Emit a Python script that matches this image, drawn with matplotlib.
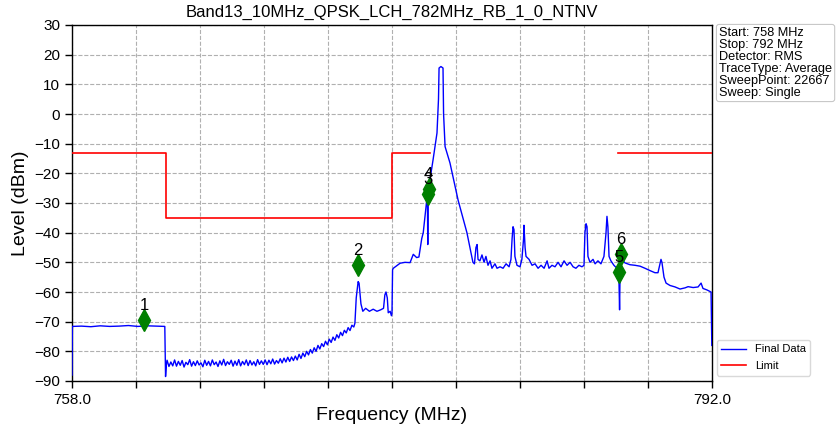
import numpy as np
import matplotlib
matplotlib.use("Agg")
import matplotlib.pyplot as plt

plt.rcParams['font.family'] = ['Liberation Sans', 'DejaVu Sans']

title = "Band13_10MHz_QPSK_LCH_782MHz_RB_1_0_NTNV"
info_lines = ["Start: 758 MHz", "Stop: 792 MHz", "Detector: RMS",
              "TraceType: Average", "SweepPoint: 22667", "Sweep: Single"]

# ---- trace: low out-of-band segment (758-763 MHz)
seg1_freq = [758.0, 758.02, 758.5, 759.0, 759.5, 760.0, 760.5, 761.0, 761.5,
             762.0, 762.5, 762.93, 762.97, 763.02]
seg1_level = [-88.0, -71.6, -71.5, -71.7, -71.4, -71.6, -71.5, -71.3, -71.6,
              -71.4, -71.5, -71.6, -88.5, -84.0]

# ---- trace: noise floor segment (763-773 MHz) sampled on the sweep grid
noise_start, noise_stop = 763.05, 772.97
noise_level = [
    -83.0, -85.1, -83.6, -84.9, -82.9, -85.0, -83.4, -84.7, -83.1, -85.3,
    -83.7, -84.5, -82.8, -85.0, -83.5, -84.8, -83.2, -84.6, -83.9, -85.2,
    -83.0, -84.7, -83.4, -84.9, -82.9, -84.5, -83.6, -85.1, -83.2, -84.6,
    -82.7, -84.8, -83.5, -84.4, -83.0, -85.0, -83.3, -84.7, -82.8, -84.9,
    -83.4, -84.5, -82.9, -84.8, -83.1, -84.6, -83.5, -84.9, -82.8, -84.4,
    -83.2, -84.4, -82.9, -84.5, -83.0, -84.2, -82.6, -84.3, -83.1, -84.0,
    -82.5, -83.9, -82.3, -83.6, -82.0, -83.4, -81.9, -83.1, -81.6, -82.9,
    -81.0, -82.4, -80.6, -81.8, -80.0, -81.2, -79.4, -80.6, -78.8, -80.0,
    -78.0, -79.2, -77.4, -78.4, -76.6, -77.8, -75.9, -77.0, -75.2, -76.3,
    -74.4, -75.5, -73.6, -74.7, -72.9, -73.8, -72.0, -73.0, -71.2, -71.8]

# ---- trace: carrier and upper segment (773-792 MHz)
seg3_freq = [773.03, 773.1, 773.2, 773.25, 773.35, 773.45, 773.6, 773.8, 774.0,
             774.2, 774.4, 774.55, 774.62, 774.68, 774.75, 774.8, 774.9, 774.97,
             775.0, 775.03, 775.07, 775.43, 775.69, 775.96, 776.13, 776.31,
             776.43, 776.58, 776.66, 776.81, 776.88, 776.9, 776.92, 777.02,
             777.18, 777.39, 777.47, 777.5, 777.6, 777.71, 777.74, 777.82,
             778.08, 778.51, 778.98, 779.3, 779.38, 779.46, 779.52, 779.57,
             779.67, 779.78, 779.89, 779.99, 780.1, 780.21, 780.31, 780.47,
             780.58, 780.74, 780.9, 781.06, 781.22, 781.32, 781.38, 781.43,
             781.48, 781.53, 781.64, 781.8, 781.9, 781.99, 782.01, 782.07,
             782.12, 782.28, 782.44, 782.6, 782.76, 782.92, 783.08, 783.24,
             783.34, 783.5, 783.66, 783.82, 783.98, 784.14, 784.3, 784.46,
             784.62, 784.77, 784.93, 785.09, 785.2, 785.25, 785.31, 785.36,
             785.41, 785.52, 785.68, 785.79, 785.94, 786.1, 786.26, 786.37,
             786.42, 786.47, 786.53, 786.63, 786.79, 786.95, 787.05, 787.09,
             787.12, 787.22, 787.38, 787.64, 787.91, 788.18, 788.44, 788.71,
             788.97, 789.13, 789.24, 789.29, 789.34, 789.45, 789.56, 789.77,
             790.04, 790.3, 790.57, 790.73, 791.0, 791.26, 791.42, 791.52,
             791.73, 791.95, 791.99]
seg3_level = [-70.5, -62.0, -56.5, -57.0, -64.0, -66.5, -65.5, -66.5, -65.8,
              -66.5, -66.0, -65.5, -61.0, -60.0, -62.0, -67.0, -66.5, -68.0,
              -67.0, -52.5, -52.0, -50.3, -50.0, -50.1, -47.3, -48.4,
              -48.2, -42.0, -40.0, -31.0, -27.0, -44.0, -27.0, -22.0,
              -15.5, -6.4, 5.0, 15.5, 16.0, 15.5, 0.0, -11.0,
              -16.5, -29.0, -40.0, -50.0, -50.5, -45.0, -44.0, -49.0,
              -49.5, -47.5, -50.0, -48.0, -51.0, -49.5, -52.0, -50.5,
              -52.0, -51.5, -52.0, -50.5, -51.5, -49.0, -42.0, -38.0,
              -39.0, -48.0, -51.0, -51.5, -49.0, -42.0, -37.5, -45.0,
              -48.0, -49.0, -51.0, -50.5, -52.0, -51.0, -52.0, -49.5,
              -52.0, -51.0, -51.5, -50.0, -51.5, -49.5, -51.0, -50.0,
              -51.5, -52.0, -51.0, -51.5, -51.0, -40.0, -37.0, -38.0,
              -48.0, -50.0, -49.0, -50.5, -49.5, -50.5, -48.0, -40.0,
              -34.5, -38.0, -48.0, -49.5, -51.0, -52.0, -54.0, -66.0,
              -52.0, -49.0, -50.2, -50.8, -51.0, -51.3, -52.0, -52.8,
              -53.5, -53.5, -50.5, -49.0, -50.0, -55.0, -57.0, -57.8,
              -58.3, -59.0, -58.6, -58.2, -58.5, -58.3, -57.0, -58.8,
              -59.3, -60.0, -78.0]

# ---- limit line
limit_freq = [758, 763, 763, 775, 775, 777, np.nan, 787, 792]
limit_level = [-13, -13, -35, -35, -13, -13, np.nan, -13, -13]

# ---- markers
marker_ids = ["1", "2", "3", "4", "5", "6"]
marker_freq = [761.83, 773.2, 776.89, 776.95, 787.06, 787.14]
marker_level = [-69.4, -51.0, -26.8, -25.3, -53.3, -47.3]

noise_freq = np.linspace(noise_start, noise_stop, len(noise_level))
trace_freq = np.concatenate([seg1_freq, noise_freq, seg3_freq])
trace_level = np.concatenate([seg1_level, noise_level, seg3_level])

fig = plt.figure(figsize=(8.38, 4.28), dpi=100)
ax = fig.add_axes([72 / 838, 47 / 428, 640 / 838, 356 / 428])

ax.plot(trace_freq, trace_level, color='#0000ff', lw=1.0, label='Final Data', zorder=3)
ax.plot(limit_freq, limit_level, color='#ff0000', lw=1.2, label='Limit', zorder=3)

ax.plot(marker_freq, marker_level, linestyle='none', marker='d', markersize=11,
        color='green', zorder=5)
for mid, mf, ml in zip(marker_ids, marker_freq, marker_level):
    ax.annotate(mid, (mf, ml), xytext=(0, 5), textcoords='offset points',
                ha='center', va='bottom', fontsize=12, color='black', zorder=6)

ax.set_xlim(758, 792)
ax.set_ylim(-90, 30)
xt = np.linspace(758, 792, 11)
ax.set_xticks(xt)
ax.set_xticklabels(["758.0"] + [""] * 9 + ["792.0"])
ax.set_yticks(np.arange(-90, 31, 10))
ax.tick_params(labelsize=11, length=5, width=1)
ax.grid(True, linestyle='--', color='#b0b0b0', lw=0.8)
ax.set_axisbelow(True)
for s in ax.spines.values():
    s.set_color('black')
    s.set_linewidth(1.0)

ax.set_title(title, fontsize=12, pad=6)
ax.set_xlabel("Frequency (MHz)", fontsize=14, labelpad=0)
ax.set_ylabel("Level (dBm)", fontsize=14)

fig.text(719 / 838, 1 - 27 / 428, "\n".join(info_lines), fontsize=9.2,
         va='top', ha='left', linespacing=1.0,
         bbox=dict(boxstyle='round,pad=0.2', fc='white', ec='#c8c8c8', lw=0.8))

ax.legend(loc='upper left', bbox_to_anchor=(717 / 838, 1 - 340 / 428),
          bbox_transform=fig.transFigure, fontsize=8, frameon=True,
          edgecolor='#d0d0d0', handlelength=2.2, borderaxespad=0,
          labelspacing=0.6)

fig.savefig("out.png", dpi=100)
